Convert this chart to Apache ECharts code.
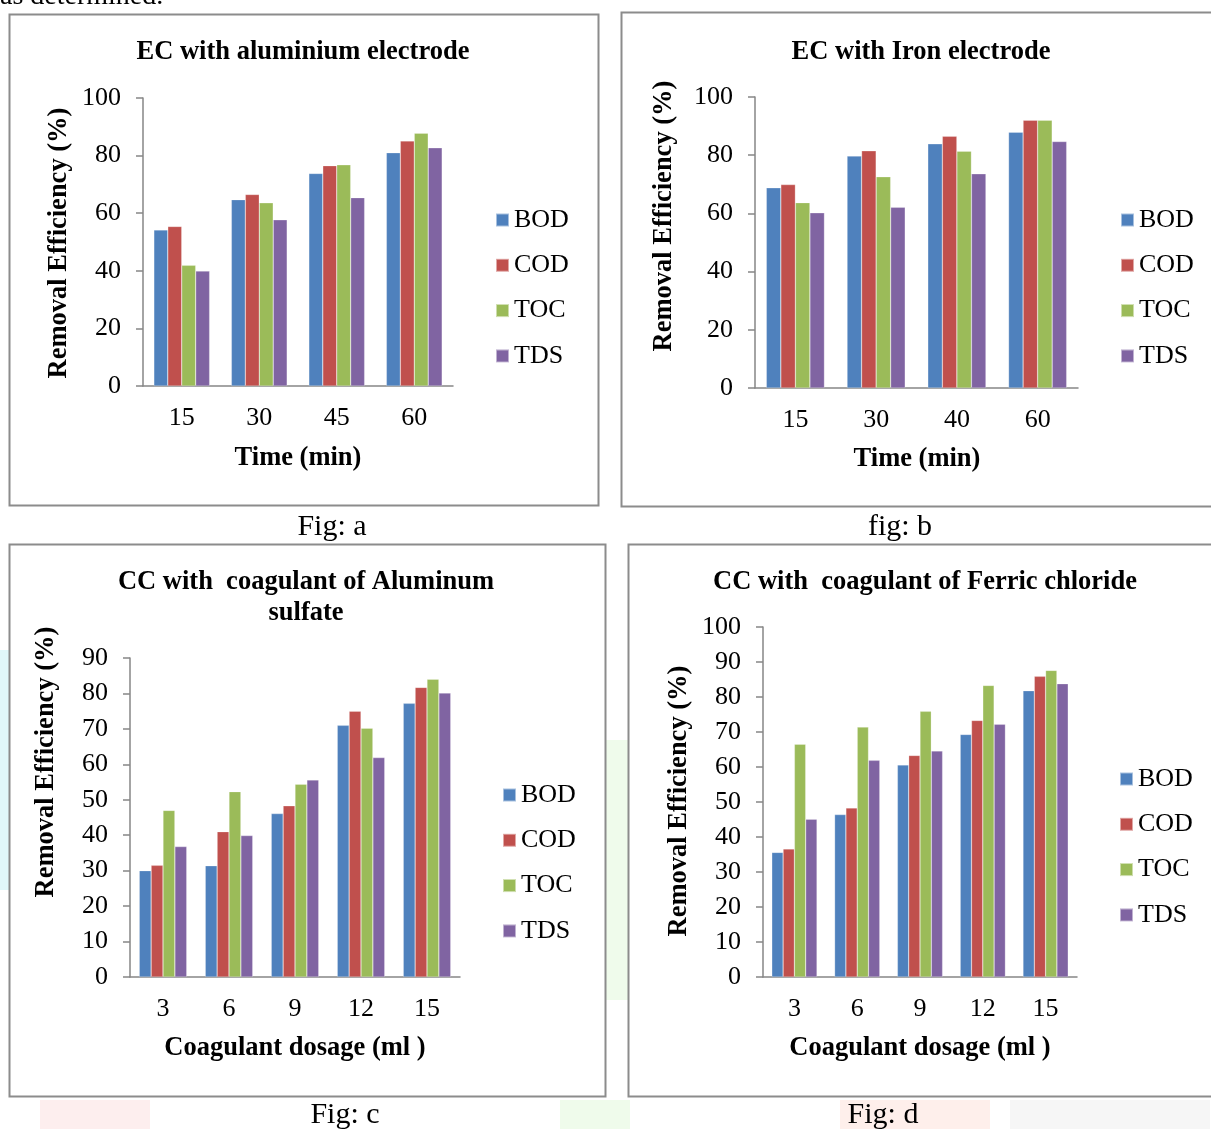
<!DOCTYPE html>
<html>
<head>
<meta charset="utf-8">
<script src="https://cdn.jsdelivr.net/npm/echarts@6/dist/echarts.min.js"></script>
<style>
html,body{margin:0;padding:0;background:#fff;}
#c{position:absolute;left:0;top:0;width:1211px;height:1129px;}
</style>
</head>
<body>
<div id="c"></div>
<script>
// ---- data ----
var seriesNames = ['BOD', 'COD', 'TOC', 'TDS'];

var catsA = ['15', '30', '45', '60'];
var bodA = [54.2, 64.7, 73.8, 81.0];
var codA = [55.4, 66.5, 76.5, 85.1];
var tocA = [41.9, 63.6, 76.8, 87.8];
var tdsA = [39.9, 57.7, 65.4, 82.7];

var catsB = ['15', '30', '40', '60'];
var bodB = [68.8, 79.7, 83.9, 87.9];
var codB = [69.9, 81.5, 86.5, 92.0];
var tocB = [63.7, 72.6, 81.4, 92.0];
var tdsB = [60.2, 62.1, 73.6, 84.7];

var catsC = ['3', '6', '9', '12', '15'];
var bodC = [30.0, 31.4, 46.1, 71.0, 77.2];
var codC = [31.5, 41.0, 48.3, 75.0, 81.7];
var tocC = [47.0, 52.3, 54.4, 70.2, 84.0];
var tdsC = [36.8, 39.9, 55.6, 61.9, 80.1];

var catsD = ['3', '6', '9', '12', '15'];
var bodD = [35.6, 46.4, 60.6, 69.3, 81.8];
var codD = [36.6, 48.3, 63.3, 73.3, 85.9];
var tocD = [66.5, 71.4, 75.9, 83.3, 87.6];
var tdsD = [45.1, 61.9, 64.6, 72.2, 83.8];

var titles = ['EC with aluminium electrode', 'EC with Iron electrode', 'CC with  coagulant of Aluminum\nsulfate', 'CC with  coagulant of Ferric chloride'];
var xNames = ['Time (min)', 'Time (min)', 'Coagulant dosage (ml )', 'Coagulant dosage (ml )'];
var yName = 'Removal Efficiency (%)';
var captions = ['Fig: a', 'fig: b', 'Fig: c', 'Fig: d'];
var yMax = [100, 100, 90, 100];
var yInterval = [20, 20, 10, 10];

// ---- layout ----
var FONT = 'Liberation Serif';
var colors = ['#4F81BD', '#C0504D', '#9BBB59', '#8064A2'];
var grids = [
  {left: 143, top: 98, width: 310, height: 288},
  {left: 755, top: 97, width: 323, height: 291},
  {left: 130, top: 658, width: 330, height: 319},
  {left: 763, top: 627, width: 314, height: 350}
];
var boxes = [
  {x: 9, y: 14, w: 589, h: 491},
  {x: 621, y: 12, w: 600, h: 494},
  {x: 9, y: 544, w: 596, h: 552},
  {x: 628, y: 544, w: 600, h: 552}
];
var legendPos = [
  {left: 495, top: 207},
  {left: 1120, top: 207},
  {left: 502, top: 782},
  {left: 1119, top: 766}
];
var titlePos = [[303, 52], [921, 52], [306, 598], [925, 582]];
var yNamePos = [[59, 243], [664, 216], [46, 762], [679, 801]];
var xNamePos = [[298, 458], [917, 459], [295, 1048], [920, 1048]];
var capPos = [[332, 527], [900, 527], [345, 1115], [883, 1115]];

var cats = [catsA, catsB, catsC, catsD];
var vals = [
  [bodA, codA, tocA, tdsA],
  [bodB, codB, tocB, tdsB],
  [bodC, codC, tocC, tdsC],
  [bodD, codD, tocD, tdsD]
];

var axisGray = '#868686';
var xAxes = [], yAxes = [], series = [], legends = [], graphics = [];

// faint watermark pieces behind
graphics.push({type: 'rect', silent: true, z: -10, shape: {x: 0, y: 650, width: 9, height: 240}, style: {fill: 'rgba(120,220,230,0.22)'}});
graphics.push({type: 'rect', silent: true, z: -10, shape: {x: 605, y: 740, width: 23, height: 260}, style: {fill: 'rgba(150,230,120,0.15)'}});
graphics.push({type: 'rect', silent: true, z: -10, shape: {x: 40, y: 1100, width: 110, height: 29}, style: {fill: 'rgba(240,120,120,0.13)'}});
graphics.push({type: 'rect', silent: true, z: -10, shape: {x: 560, y: 1100, width: 70, height: 29}, style: {fill: 'rgba(150,230,120,0.15)'}});
graphics.push({type: 'rect', silent: true, z: -10, shape: {x: 840, y: 1100, width: 150, height: 29}, style: {fill: 'rgba(250,150,120,0.15)'}});
graphics.push({type: 'rect', silent: true, z: -10, shape: {x: 1010, y: 1100, width: 200, height: 29}, style: {fill: 'rgba(180,180,180,0.12)'}});

graphics.push({type: 'text', silent: true, style: {text: 'as determined.', x: 0, y: 11, verticalAlign: 'bottom', align: 'left', font: '28px ' + FONT, fill: '#000'}});

for (var i = 0; i < 4; i++) {
  var b = boxes[i];
  graphics.push({type: 'rect', silent: true, z: -5, shape: {x: b.x + 0.5, y: b.y + 0.5, width: b.w, height: b.h}, style: {fill: '#fff', stroke: '#8c8c8c', lineWidth: 2}});
  graphics.push({type: 'text', silent: true, style: {text: titles[i], x: titlePos[i][0], y: titlePos[i][1], align: 'center', verticalAlign: 'middle', font: 'bold 26.5px ' + FONT, fill: '#000', lineHeight: 31}});
  graphics.push({type: 'text', silent: true, x: yNamePos[i][0], y: yNamePos[i][1], rotation: Math.PI / 2, style: {text: yName, x: 0, y: 0, align: 'center', verticalAlign: 'middle', font: 'bold 26.5px ' + FONT, fill: '#000'}});
  graphics.push({type: 'text', silent: true, style: {text: xNames[i], x: xNamePos[i][0], y: xNamePos[i][1], align: 'center', verticalAlign: 'middle', font: 'bold 26.5px ' + FONT, fill: '#000'}});
  graphics.push({type: 'text', silent: true, style: {text: captions[i], x: capPos[i][0], y: capPos[i][1], align: 'center', verticalAlign: 'middle', font: '30px ' + FONT, fill: '#000'}});

  xAxes.push({
    type: 'category', gridIndex: i, data: cats[i],
    axisLine: {lineStyle: {color: axisGray, width: 1.5}},
    axisTick: {show: false},
    axisLabel: {fontFamily: FONT, fontSize: 26, color: '#000', margin: 19}
  });
  yAxes.push({
    type: 'value', gridIndex: i, min: 0, max: yMax[i], interval: yInterval[i],
    axisLine: {show: true, lineStyle: {color: axisGray, width: 1.5}},
    axisTick: {show: true, length: 7, lineStyle: {color: axisGray, width: 1.5}},
    splitLine: {show: false},
    axisLabel: {fontFamily: FONT, fontSize: 26, color: '#000', margin: 22}
  });
  for (var s = 0; s < 4; s++) {
    series.push({
      type: 'bar', name: seriesNames[s], xAxisIndex: i, yAxisIndex: i,
      data: vals[i][s], barGap: '0%', barCategoryGap: '28%',
      itemStyle: {color: colors[s], borderColor: 'rgba(255,255,255,0.5)', borderWidth: 0.5},
      animation: false
    });
  }
  legends.push({
    orient: 'vertical', left: legendPos[i].left, top: legendPos[i].top,
    data: seriesNames, icon: 'rect', itemWidth: 13, itemHeight: 13, itemGap: 19.3,
    padding: 0,
    textStyle: {fontFamily: FONT, fontSize: 26, color: '#000', lineHeight: 26, padding: [0, 0, 0, 0]},
    selectedMode: false
  });
}

var chart = echarts.init(document.getElementById('c'), null, {renderer: 'canvas'});
chart.setOption({
  animation: false,
  backgroundColor: '#fff',
  grid: grids,
  xAxis: xAxes,
  yAxis: yAxes,
  legend: legends,
  series: series,
  graphic: {elements: graphics}
});
</script>
</body>
</html>
